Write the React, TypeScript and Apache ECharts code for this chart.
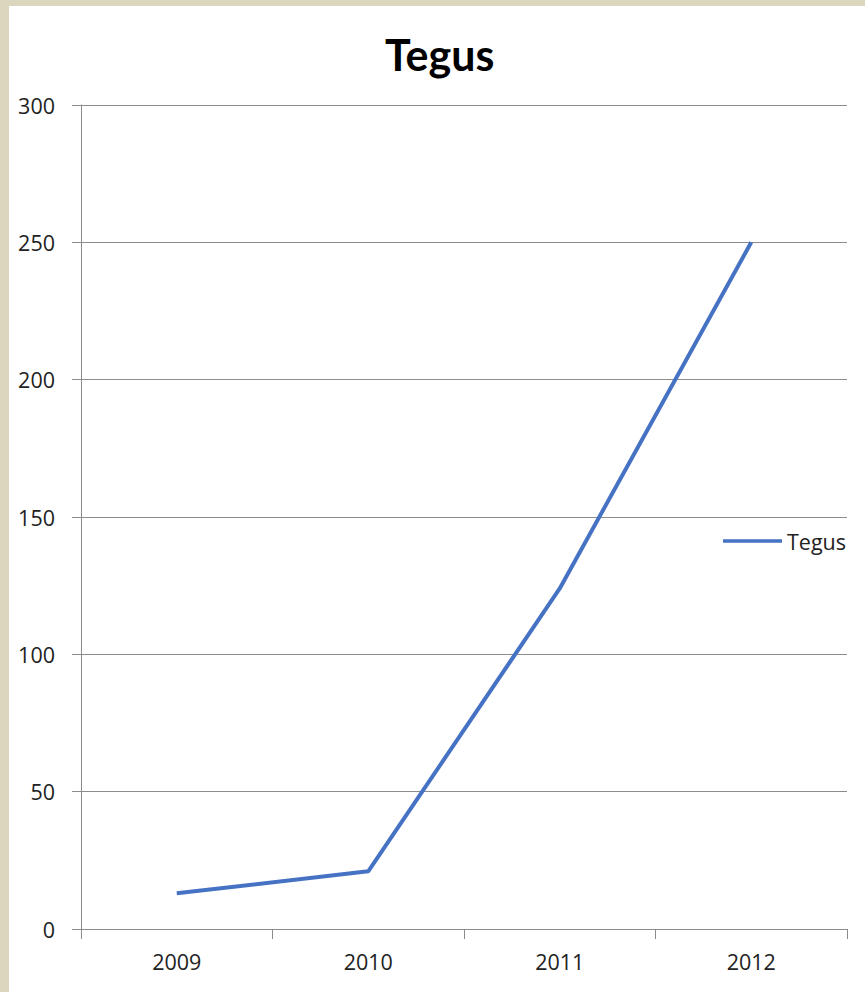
import React, { useEffect, useRef } from "react";
import * as echarts from "echarts";

const years = ["2009", "2010", "2011", "2012"];
const tegus = [13, 21, 124, 250];
const yTicks = { min: 0, max: 300, interval: 50 };

export default function App() {
  const ref = useRef<HTMLDivElement>(null);
  useEffect(() => {
    document.body.style.margin = "0";
    const chart = echarts.init(ref.current!, null, { renderer: "svg" });
    chart.setOption({
      animation: false,
      backgroundColor: "#ddd6bf",
      graphic: [
        {
          type: "rect",
          z: -10,
          silent: true,
          shape: { x: 9, y: 6, width: 870, height: 1000 },
          style: { fill: "#ffffff" },
        },
      ],
      title: {
        text: "Tegus",
        left: 385,
        top: 33,
        padding: 0,
        textStyle: { fontFamily: "Lato", fontWeight: "bold", fontSize: 43, color: "#000" },
      },
      legend: {
        left: 723,
        top: 530,
        padding: 0,
        icon: "rect",
        itemWidth: 59,
        itemHeight: 3.5,
        textStyle: { fontFamily: "Open Sans", fontSize: 21.5, color: "#222", padding: [0, 0, 0, 0] },
        data: ["Tegus"],
      },
      grid: { left: 81, right: 18, top: 105, bottom: 63, containLabel: false },
      xAxis: {
        type: "category",
        data: years,
        boundaryGap: true,
        axisLine: { lineStyle: { color: "#8c8c8c", width: 1 } },
        axisTick: { show: true, length: 10, lineStyle: { color: "#8c8c8c" } },
        axisLabel: { fontFamily: "Open Sans", fontSize: 21.5, color: "#222", margin: 21 },
      },
      yAxis: {
        type: "value",
        min: yTicks.min,
        max: yTicks.max,
        interval: yTicks.interval,
        axisLine: { show: true, lineStyle: { color: "#8c8c8c", width: 1 } },
        axisTick: { show: true, length: 9, lineStyle: { color: "#8c8c8c" } },
        splitLine: { show: true, lineStyle: { color: "#8c8c8c", width: 1 } },
        axisLabel: { fontFamily: "Open Sans", fontSize: 21.5, color: "#222", margin: 26 },
      },
      series: [
        {
          name: "Tegus",
          type: "line",
          data: tegus,
          symbol: "none",
          lineStyle: { color: "#4672c4", width: 4 },
          itemStyle: { color: "#4672c4" },
        },
      ],
    });
    return () => chart.dispose();
  }, []);
  return <div ref={ref} style={{ width: 865, height: 992 }} />;
}
